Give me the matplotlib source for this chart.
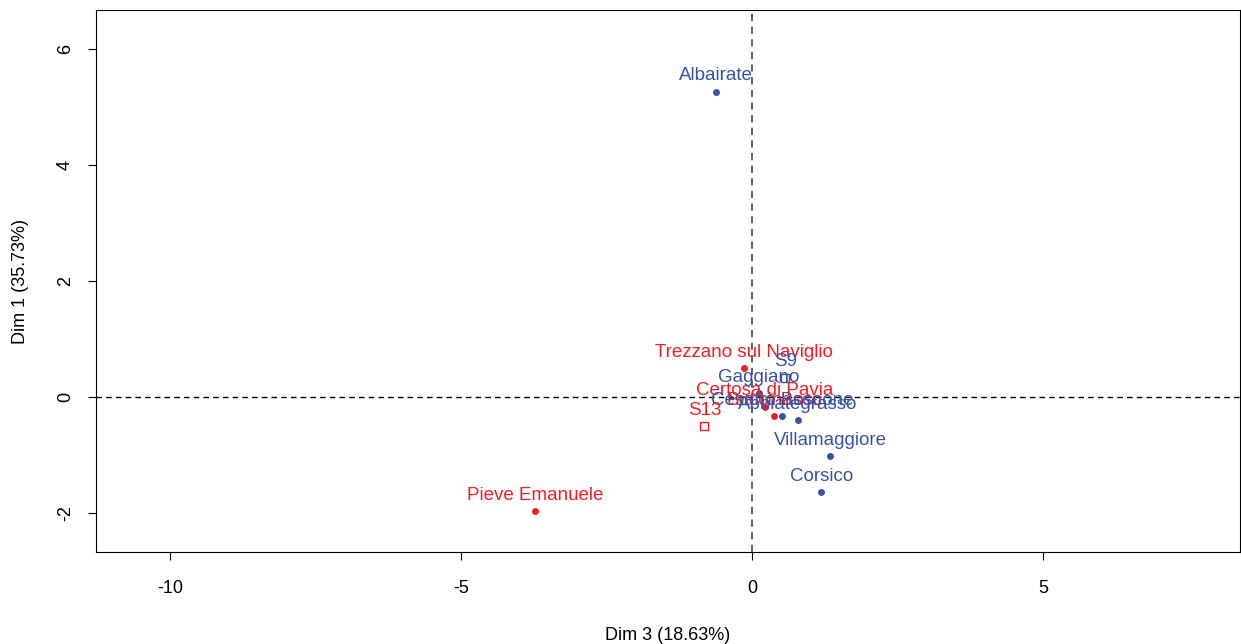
import matplotlib
matplotlib.use("Agg")
import matplotlib.pyplot as plt

plt.rcParams["font.family"] = ["Liberation Sans", "DejaVu Sans"]
plt.rcParams["axes.unicode_minus"] = False

# active individuals
names = ["Albairate", "Trezzano sul Naviglio", "Pieve Emanuele", "Certosa di Pavia",
         "Buccinasco", "Cesano Boscone", "Abbiategrasso", "Villamaggiore",
         "Corsico", "Gaggiano"]
dim3 = [-0.62, -0.14, -3.73, 0.22, 0.38, 0.52, 0.79, 1.34, 1.19, 0.12]
dim1 = [5.26, 0.50, -1.97, -0.17, -0.33, -0.33, -0.40, -1.02, -1.64, 0.07]
groups = ["b", "r", "r", "r", "r", "b", "b", "b", "b", "b"]

# supplementary individuals
sup_names = ["S9", "S13"]
sup_dim3 = [0.57, -0.82]
sup_dim1 = [0.33, -0.50]
sup_groups = ["b", "r"]

colors = {"b": "#3A52A4", "r": "#EE1F26"}

fig = plt.figure(figsize=(12.41, 6.44), dpi=100)
ax = fig.add_axes([96 / 1241, 92 / 644, (1240 - 96) / 1241, (552 - 10) / 644])

for x, y, n, g in zip(dim3, dim1, names, groups):
    ax.plot(x, y, "o", color=colors[g], ms=5, mec="none")
    ax.annotate(n, (x, y), xytext=(0, 11.5), textcoords="offset points",
                ha="center", va="center", color=colors[g], fontsize=13.5)

for x, y, n, g in zip(sup_dim3, sup_dim1, sup_names, sup_groups):
    ax.plot(x, y, "s", mfc="none", mec=colors[g], ms=6, mew=1)
    ax.annotate(n, (x, y), xytext=(0, 11.5), textcoords="offset points",
                ha="center", va="center", color=colors[g], fontsize=13.5)

ax.axhline(0, color="black", ls=(0, (4, 3)), lw=1)
ax.axvline(0, color="#555555", ls=(0, (4, 3)), lw=1.3)

ax.set_xlim(-11.27, 8.38)
ax.set_ylim(-2.67, 6.67)
ax.set_xticks([-10, -5, 0, 5])
ax.set_yticks([-2, 0, 2, 4, 6])
ax.tick_params(axis="x", labelsize=13, length=6, pad=14)
ax.tick_params(axis="y", labelsize=13, length=6, pad=10)
for lab in ax.get_yticklabels():
    lab.set_rotation(90)
    lab.set_va("center")
ax.set_xlabel("Dim 3 (18.63%)", fontsize=13, labelpad=22)
ax.set_ylabel("Dim 1 (35.73%)", fontsize=13, labelpad=20)

fig.savefig("out.png", dpi=100)
